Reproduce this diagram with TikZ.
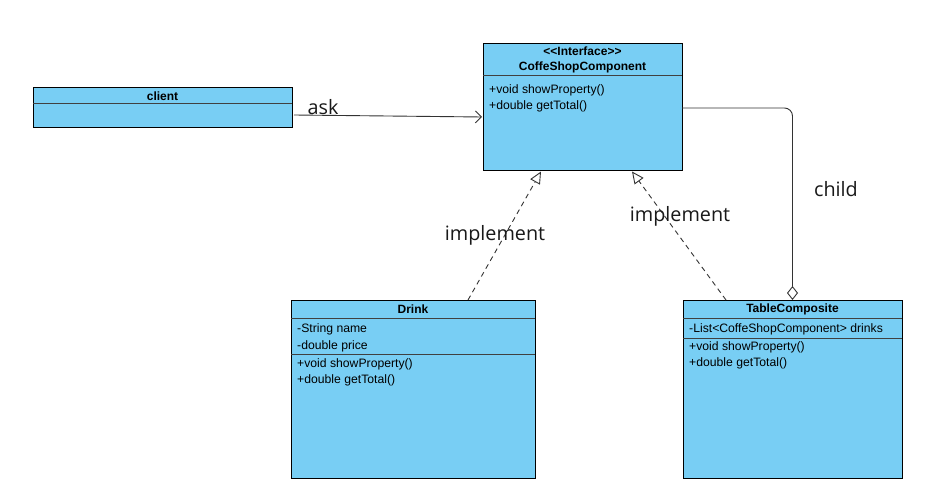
\documentclass[tikz,border=0pt]{standalone}
\usepackage{fontspec}
\setmainfont{Liberation Sans}
\newfontfamily\labelfont{Open Sans}
\usetikzlibrary{arrows.meta,calc}
\definecolor{boxfill}{RGB}{120,206,244}
\begin{document}
\begin{tikzpicture}[x=1pt,y=-1pt,
  cls/.style={draw=black, fill=boxfill, line width=1pt, anchor=north west, inner sep=0pt, outer sep=0pt},
  sep/.style={draw=black!75, line width=1pt},
  hdr/.style={font=\fontsize{12}{15}\selectfont\bfseries, inner sep=0pt, align=center},
  mem/.style={font=\fontsize{12.2}{13}\selectfont, anchor=west, inner sep=0pt},
  lbl/.style={font=\labelfont\fontsize{19.8}{22}\selectfont, inner sep=0pt, text=black!90},
  edge/.style={draw=black!80, line width=0.9pt}
]
\useasboundingbox[fill=white] (0,0) rectangle (946,492);

% client
\node[cls, minimum width=259pt, minimum height=40pt] (client) at (33,88) {};
\draw[sep] ($(client.north west)+(0,16)$) -- ($(client.north east)+(0,16)$);
\node[hdr] (clientT) at ($(client.north)+(0,8)$) {client};

% interface
\node[cls, minimum width=199pt, minimum height=127pt] (iface) at (483,44) {};
\draw[sep] ($(iface.north west)+(0,32)$) -- ($(iface.north east)+(0,32)$);
\node[hdr] (ifaceT) at ($(iface.north)+(0,15.5)$) {{<}{<}Interface{>}{>}\\CoffeShopComponent};
\node[mem] (ifaceM1) at (489,90.5) {+void showProperty()};
\node[mem] (ifaceM2) at (489,106.5) {+double getTotal()};

% drink
\node[cls, minimum width=244pt, minimum height=178pt] (drink) at (291,300) {};
\draw[sep] ($(drink.north west)+(0,18)$) -- ($(drink.north east)+(0,18)$);
\draw[sep] ($(drink.north west)+(0,54)$) -- ($(drink.north east)+(0,54)$);
\node[hdr] (drinkT) at ($(drink.north)+(0,9)$) {Drink};
\node[mem] (drinkA1) at (297,329.5) {-String name};
\node[mem] (drinkA2) at (297,346.5) {-double price};
\node[mem] (drinkM1) at (297,364.5) {+void showProperty()};
\node[mem] (drinkM2) at (297,380.5) {+double getTotal()};

% table composite
\node[cls, minimum width=219pt, minimum height=178pt] (table) at (683,300) {};
\draw[sep] ($(table.north west)+(0,18)$) -- ($(table.north east)+(0,18)$);
\draw[sep] ($(table.north west)+(0,38)$) -- ($(table.north east)+(0,38)$);
\node[hdr] (tableT) at ($(table.north)+(0,9)$) {TableComposite};
\node[mem] (tableA1) at (689,329.5) {-List<CoffeShopComponent> drinks};
\node[mem] (tableM1) at (689,347.5) {+void showProperty()};
\node[mem] (tableM2) at (689,363.5) {+double getTotal()};

% ask
\coordinate (askS) at (294,115);
\draw[edge, -{Straight Barb[length=6pt,width=12pt]}] (askS) -- ($(iface.west)+(-1,9.5)$);
\node[lbl] (askL) at (323,107) {ask};

% implement (drink)
\draw[edge, dashed, dash pattern=on 5pt off 4pt, -{Triangle[open,length=12pt,width=11pt]}]
  ($(drink.north)+(55,0)$) -- ($(iface.south)+(-41.5,0.5)$);
\node[lbl] (implL) at (495,235.5) {implement};

% implement (table)
\draw[edge, dashed, dash pattern=on 5pt off 4pt, -{Triangle[open,length=12pt,width=11pt]}]
  ($(table.north)+(-66.5,0)$) -- ($(iface.south)+(49.5,0.5)$);
\node[lbl] (implR) at (680,216.5) {implement};

% child (aggregation)
\draw[edge, {Diamond[open,length=14pt,width=11pt]}-, rounded corners=8pt]
  (table.north) |- ($(iface.east)+(0,0.5)$);
\node[lbl] (childL) at (836,189) {child};
\end{tikzpicture}
\end{document}
